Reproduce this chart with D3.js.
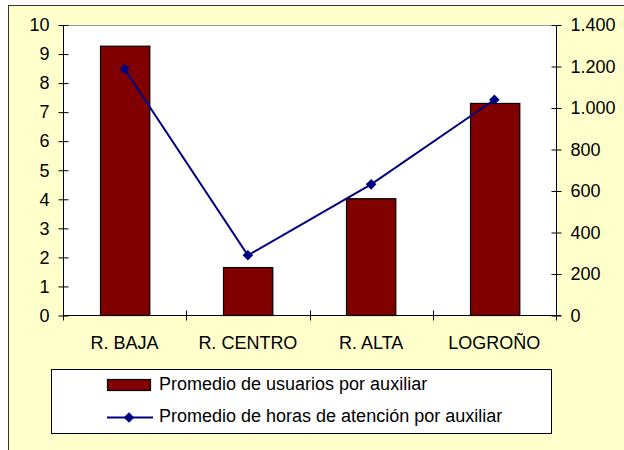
<!DOCTYPE html>
<html><head><meta charset="utf-8">
<script src="https://cdn.jsdelivr.net/npm/d3@7"></script>
<style>body{margin:0;background:#fff}svg{display:block;font-family:"Liberation Sans",Arial,sans-serif}</style>
</head><body>
<script>
const categories = ["R. BAJA", "R. CENTRO", "R. ALTA", "LOGROÑO"];
const usuarios = [9.27, 1.65, 4.02, 7.3];
const horas = [1188, 290, 632, 1040];
const leftTicks = [0,1,2,3,4,5,6,7,8,9,10];
const rightTicks = [0,200,400,600,800,1000,1200,1400];
const seriesNames = ["Promedio de usuarios por auxiliar", "Promedio de horas de atención por auxiliar"];

const W = 624, H = 450;
const svg = d3.select("body").append("svg").attr("width", W).attr("height", H);
const m = {l: 63, r: 556, t: 25, b: 315.5};
const fs = 18;

svg.append("rect").attr("x", 8.5).attr("y", 5.5).attr("width", 700).attr("height", 600)
  .attr("fill", "#FFFFCC").attr("stroke", "#333").attr("stroke-width", 1);
svg.append("rect").attr("x", m.l).attr("y", m.t).attr("width", m.r - m.l).attr("height", m.b - m.t).attr("fill", "#fff");
svg.append("line").attr("x1", m.l).attr("x2", m.r).attr("y1", m.t + 0.5).attr("y2", m.t + 0.5).attr("stroke", "#999");

const x = d3.scaleBand().domain(categories).range([m.l, m.r]).paddingInner(0.6).paddingOuter(0.3);
const xc = d3.scalePoint().domain(d3.range(categories.length + 1)).range([m.l, m.r]);
const yL = d3.scaleLinear().domain([0, 10]).range([m.b, m.t]);
const yR = d3.scaleLinear().domain([0, 1400]).range([m.b, m.t]);
const loc = d3.formatLocale({decimal: ",", thousands: ".", grouping: [3], currency: ["", ""]});
const fR = loc.format(",d");

// bars
svg.append("g").selectAll("rect").data(categories).join("rect")
  .attr("x", d => Math.round(x(d)) + 0.5).attr("y", (d, i) => yL(usuarios[i]))
  .attr("width", x.bandwidth()).attr("height", (d, i) => m.b - yL(usuarios[i]))
  .attr("fill", "#800000").attr("stroke", "#000").attr("stroke-width", 1.2);

// axes
const axL = svg.append("g").attr("transform", `translate(${m.l + 0.5},0)`)
  .call(d3.axisLeft(yL).tickValues(leftTicks).tickSize(5).tickPadding(9));
const axR = svg.append("g").attr("transform", `translate(${m.r + 0.5},0)`)
  .call(d3.axisRight(yR).tickValues(rightTicks).tickFormat(fR).tickSize(5).tickPadding(9));
[axL, axR].forEach(a => {
  a.select(".domain").attr("stroke", "#000").attr("d", `M0,${m.t}V${m.b}`);
  a.selectAll(".tick line").attr("stroke", "#000").attr("x1", -5).attr("x2", 5);
  a.selectAll("text").attr("font-size", fs).attr("fill", "#000").attr("font-family", "Liberation Sans, Arial, sans-serif");
});
axL.selectAll("text").attr("x", -14);
axR.selectAll("text").attr("x", 14);

const axB = svg.append("g").attr("transform", `translate(0,${m.b})`);
axB.append("line").attr("x1", m.l).attr("x2", m.r + 5).attr("y1", 0).attr("y2", 0).attr("stroke", "#000");
axB.selectAll("line.t").data(xc.domain()).join("line").attr("class", "t")
  .attr("x1", d => Math.round(xc(d)) + 0.5).attr("x2", d => Math.round(xc(d)) + 0.5)
  .attr("y1", -5).attr("y2", 5).attr("stroke", "#000");
axB.selectAll("text").data(categories).join("text")
  .attr("x", d => x(d) + x.bandwidth() / 2).attr("y", 33.5)
  .attr("text-anchor", "middle").attr("font-size", fs).attr("fill", "#000").text(d => d);

// line
const lineGen = d3.line().x((d, i) => x(categories[i]) + x.bandwidth() / 2).y(d => yR(d));
svg.append("path").datum(horas).attr("d", lineGen).attr("fill", "none").attr("stroke", "#000080").attr("stroke-width", 2);
svg.append("g").selectAll("path").data(horas).join("path")
  .attr("d", d3.symbol().type(d3.symbolSquare).size(56))
  .attr("transform", (d, i) => `translate(${x(categories[i]) + x.bandwidth() / 2},${yR(d)}) rotate(45)`)
  .attr("fill", "#000080");

// legend
const lg = svg.append("g");
lg.append("rect").attr("x", 51.5).attr("y", 369.5).attr("width", 500).attr("height", 64)
  .attr("fill", "#fff").attr("stroke", "#000");
lg.append("rect").attr("x", 107.5).attr("y", 379.5).attr("width", 43).attr("height", 11)
  .attr("fill", "#800000").attr("stroke", "#000").attr("stroke-width", 1.2);
lg.append("line").attr("x1", 107).attr("x2", 153).attr("y1", 417.5).attr("y2", 417.5).attr("stroke", "#000080").attr("stroke-width", 2);
lg.append("path").attr("d", d3.symbol().type(d3.symbolSquare).size(56)).attr("transform", "translate(129,417.5) rotate(45)").attr("fill", "#000080");
lg.selectAll("text").data(seriesNames).join("text")
  .attr("x", 159).attr("y", (d, i) => 389.5 + i * 32).attr("font-size", fs).attr("fill", "#000").text(d => d);
</script>
</body></html>
